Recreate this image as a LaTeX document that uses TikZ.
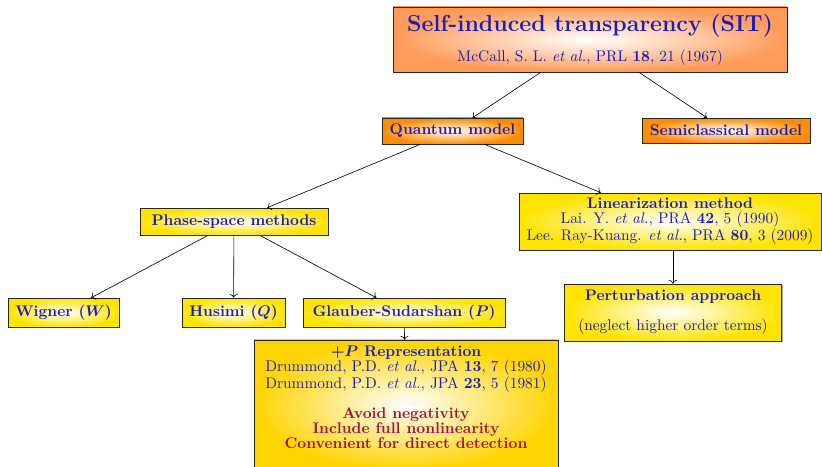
\documentclass[tikz,border=0pt]{standalone}
\usepackage{tikz}
\usetikzlibrary{positioning,arrows.meta,shadows}

\definecolor{sitorange}{RGB}{255,155,90}
\definecolor{darkorange}{RGB}{255,140,0}
\definecolor{boxyellow}{RGB}{255,228,0}
\definecolor{boxgold}{RGB}{255,212,0}
\definecolor{textblue}{RGB}{30,30,180}
\definecolor{textred}{RGB}{160,20,60}

\begin{document}
\begin{tikzpicture}[
    x=0.649pt,
    y=-0.649pt,
    font=\fontsize{10pt}{9.7pt}\selectfont,
    block/.style={
        draw=black!85,
        align=center,
        text=textblue,
        inner sep=2pt,
        shading=radial,
        inner color=white,
        drop shadow={shadow xshift=0.8pt, shadow yshift=-0.8pt, fill=black!50, opacity=0.7}
    },
    titlebox/.style={block, outer color=sitorange},
    model/.style={block, outer color=darkorange, font=\bfseries\boldmath},
    method/.style={block, outer color=boxyellow, font=\bfseries\boldmath},
    refbox/.style={block, outer color=boxyellow},
    repbox/.style={block, outer color=boxgold},
    arrow/.style={->}
]

\useasboundingbox (0,0) rectangle (822,466);

% ============================================================
% SIT
% ============================================================
\node[titlebox, minimum width=255.7pt, minimum height=42.2pt] (sit) at (590,39.5)
    {{\fontsize{15pt}{18pt}\selectfont\bfseries Self-induced transparency (SIT)}\\[7pt]
     McCall, S. L. \emph{et al.}, PRL \textbf{18}, 21 (1967)};

% ============================================================
% MODELE
% ============================================================
\node[model, minimum width=91.5pt, minimum height=16.9pt] (quantum) at (452.5,131) {Quantum model};
\node[model, minimum width=109pt, minimum height=16.2pt] (semi) at (726,130.5) {Semiclassical model};

\draw[arrow] (sit) -- (quantum);
\draw[arrow] (sit) -- (semi);

% ============================================================
% METODY
% ============================================================
\node[method, minimum width=122pt, minimum height=17.5pt] (phase) at (234,221.5) {Phase-space methods};
\node[refbox, minimum width=196pt, minimum height=37pt] (linear) at (670,221.5)
    {\textbf{Linearization method}\\
     Lai. Y. \emph{et al.}, PRA \textbf{42}, 5 (1990)\\
     Lee. Ray-Kuang. \emph{et al.}, PRA \textbf{80}, 3 (2009)};

\draw[arrow] (quantum) -- (phase);
\draw[arrow] (quantum) -- (linear);

% rozklady quasi-prawdopodobienstwa
\node[method, minimum width=72pt, minimum height=18.8pt] (wigner) at (63.5,312.5) {Wigner ($W$)};
\node[method, minimum width=66.8pt, minimum height=18.8pt] (husimi) at (233.5,312.5) {Husimi ($Q$)};
\node[method, minimum width=131.1pt, minimum height=18.8pt] (glauber) at (404,312.5) {Glauber-Sudarshan ($P$)};

\draw[arrow] (phase) -- (wigner);
\draw[arrow] (phase) -- (husimi);
\draw[arrow] (phase) -- (glauber);

\node[refbox, minimum width=140.8pt, minimum height=37pt] (perturb) at (673,312.5)
    {\textbf{Perturbation approach}\\[9.7pt]
     (neglect higher order terms)};

\draw[arrow] (linear.south -| perturb.north) -- (perturb.north);

% ============================================================
% +P
% ============================================================
\node[repbox, minimum width=197.3pt, minimum height=84.4pt] (plusp) at (406,405)
    {\textbf{\boldmath$+P$ Representation}\\
     Drummond, P.D. \emph{et al.}, JPA \textbf{13}, 7 (1980)\\
     Drummond, P.D. \emph{et al.}, JPA \textbf{23}, 5 (1981)\\[9.7pt]
     \textcolor{textred}{\textbf{Avoid negativity}}\\
     \textcolor{textred}{\textbf{Include full nonlinearity}}\\
     \textcolor{textred}{\textbf{Convenient for direct detection}}\\
     \mbox{}};

\draw[arrow] (glauber) -- (plusp);

\end{tikzpicture}
\end{document}
